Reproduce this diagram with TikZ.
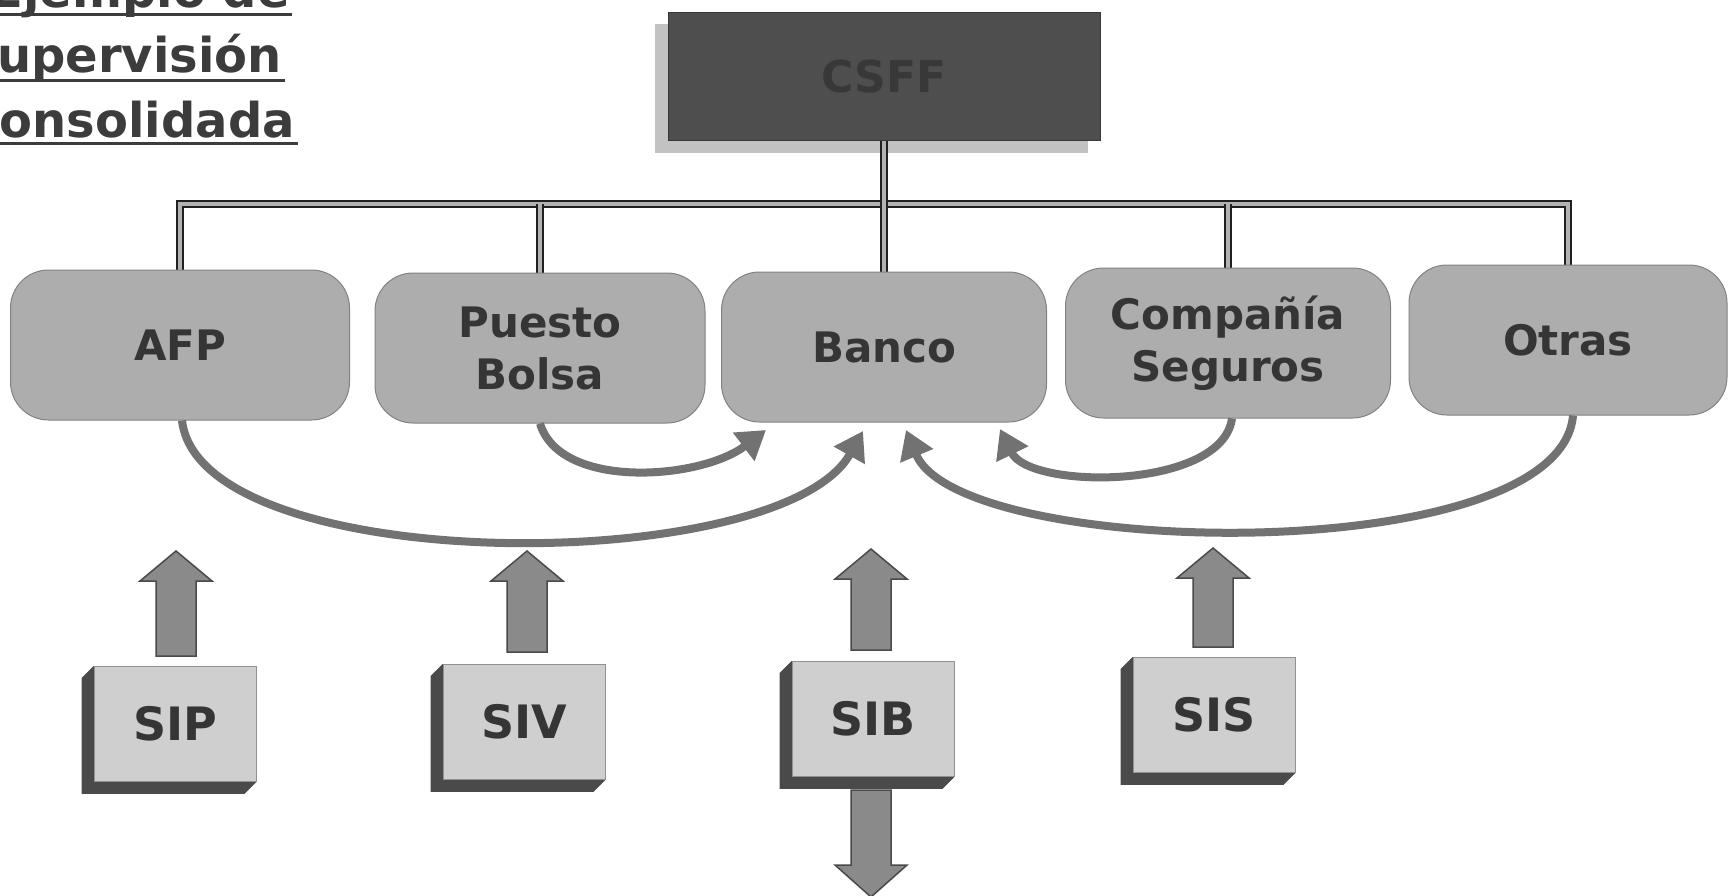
\documentclass[tikz,border=0pt]{standalone}
\usepackage{fontspec}
\setmainfont{DejaVu Sans}
\usetikzlibrary{arrows.meta,backgrounds,calc}
\definecolor{titlegray}{HTML}{3C3C3C}
\definecolor{txt}{HTML}{353535}
\definecolor{rowfill}{HTML}{ADADAD}
\definecolor{topfill}{HTML}{4E4E4E}
\definecolor{topshadow}{HTML}{C2C2C2}
\definecolor{facefill}{HTML}{CFCFCF}
\definecolor{extfill}{HTML}{4A4A4A}
\definecolor{arrfill}{HTML}{8A8A8A}
\definecolor{arredge}{HTML}{4A4A4A}
\definecolor{curvegray}{HTML}{727272}
\newcommand\extr[3]{\fill[#3] (#1.north west) -- ++(-#2,#2) -- ([shift={(-#2,#2)}]#1.south west) -- ([shift={(-#2,#2)}]#1.south east) -- (#1.south east) -- cycle;}
\newcommand\blockup[3]{\filldraw[blk] (#1-20,#3) -- (#1-20,#2+30) -- (#1-36,#2+30) -- (#1,#2) -- (#1+36,#2+30) -- (#1+20,#2+30) -- (#1+20,#3) -- cycle;}
\begin{document}
\begin{tikzpicture}[x=1pt,y=-1pt,
  titletext/.style={font=\fontsize{48}{58}\selectfont\bfseries, text=titlegray, inner sep=0pt, anchor=base east},
  ul/.style={draw=titlegray, line width=3pt},
  topbox/.style={fill=topfill, draw=topfill!70!black, line width=1pt, minimum width=432pt, minimum height=128pt, inner sep=0pt, font=\fontsize{44}{50}\selectfont\bfseries, text=black!78},
  rowbox/.style={fill=rowfill, draw=rowfill!75!black, line width=1pt, rounded corners=38pt, minimum height=150pt, inner sep=0pt, align=center, font=\fontsize{42}{52}\selectfont\bfseries, text=txt},
  facebox/.style={fill=facefill, draw=facefill!70!black, line width=0.8pt, minimum width=162pt, minimum height=115pt, inner sep=0pt, font=\fontsize{46}{50}\selectfont\bfseries, text=txt},
  bus/.style={draw=gray!25!black, line width=2pt, double=gray!60, double distance=3.5pt},
  curvearrow/.style={draw=curvegray, line width=8pt, -{Triangle[length=28pt,width=34pt]}},
  blk/.style={fill=arrfill, draw=arredge, line width=1.5pt, line join=miter}]
\useasboundingbox (0,0) rectangle (1728,895);

% title
\node[titletext] (t1) at (290,7) {Ejemplo de};
\node[titletext] (t2) at (282,72) {Supervisión};
\node[titletext] (t3) at (295,137) {Consolidada};
\draw[ul] ([yshift=-7pt]t1.base west) -- ([yshift=-7pt,xshift=2pt]t1.base east);
\draw[ul] ([yshift=-8pt]t2.base west) -- ([yshift=-8pt,xshift=3pt]t2.base east);
\draw[ul] ([yshift=-6pt]t3.base west) -- ([yshift=-6pt,xshift=3pt]t3.base east);

% top box
\node[topbox] (top) at (884,76) {CSFF};

% row boxes
\node[rowbox, minimum width=339pt] (afp) at (180,345) {AFP};
\node[rowbox, minimum width=330pt] (pb) at (540,348) {Puesto\\Bolsa};
\node[rowbox, minimum width=325pt] (banco) at (884,347) {Banco};
\node[rowbox, minimum width=325pt] (cs) at (1228,343) {Compañía\\Seguros};
\node[rowbox, minimum width=318pt] (otras) at (1568,340) {Otras};

% bottom boxes
\node[facebox] (sip) at (175,724) {SIP};
\node[facebox] (siv) at (524,722) {SIV};
\node[facebox] (sib) at (873,719) {SIB};
\node[facebox] (sis) at (1214,715) {SIS};

\begin{scope}[on background layer]
  \fill[white] (0,0) rectangle (1728,895);
  \fill[topshadow] ([shift={(-13,12)}]top.north west) rectangle ([shift={(-13,12)}]top.south east);
  \extr{sip}{12}{extfill}
  \extr{siv}{12}{extfill}
  \extr{sib}{12}{extfill}
  \extr{sis}{12}{extfill}
  % hierarchy lines
  \coordinate (bus) at (0,204);
  \draw[bus] (afp.north) |- (bus -| otras.north) -- (otras.north);
  \draw[bus] (bus -| pb.north) -- (pb.north);
  \draw[bus] (bus -| cs.north) -- (cs.north);
  \draw[bus] (top.south) -- (banco.north);
\end{scope}

% curved arrows into Banco
\coordinate (tip1) at (766,430);
\coordinate (tip2) at (863,431);
\coordinate (tip3) at (906,430);
\coordinate (tip4) at (1000,429);
\draw[curvearrow] ([xshift=2pt]afp.south) .. controls (200,578) and (780,578) .. (tip2);
\draw[curvearrow] (pb.south) .. controls (560,490) and (700,480) .. (tip1);
\draw[curvearrow] ([xshift=5pt]otras.south) .. controls (1560,570) and (960,560) .. (tip3);
\draw[curvearrow] ([xshift=4pt]cs.south) .. controls (1222,490) and (1030,490) .. (tip4);

% block arrows
\blockup{176}{551}{656}
\blockup{527}{551}{652}
\blockup{871}{549}{650}
\blockup{1213}{548}{647}
\filldraw[blk] (851,790) -- (851,865) -- (835,865) -- (871,897) -- (907,865) -- (891,865) -- (891,790) -- cycle;
\end{tikzpicture}
\end{document}
